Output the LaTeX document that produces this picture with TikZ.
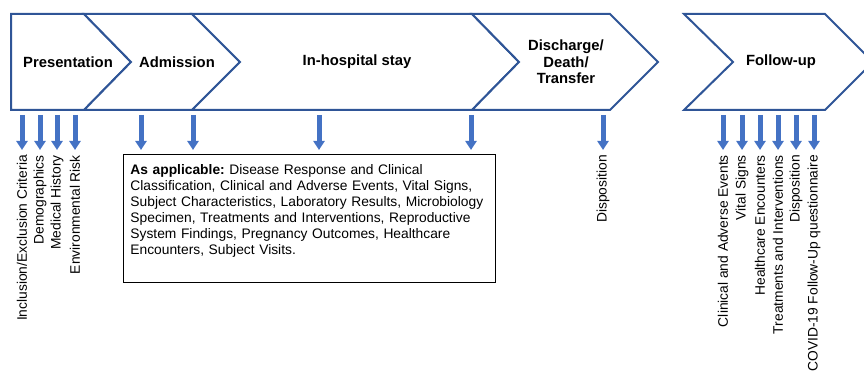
\documentclass[tikz,border=0pt]{standalone}
\usepackage{fontspec}
\setmainfont{Liberation Sans}
\usepackage{xcolor}
\usetikzlibrary{arrows.meta, positioning}

\definecolor{stageblue}{HTML}{2F5597}
\definecolor{arrowblue}{HTML}{4472C4}
\hyphenpenalty=10000
\frenchspacing

\begin{document}
\begin{tikzpicture}[x=1pt, y=-1pt,
    stage/.style={draw=stageblue, line width=2pt, fill=white, line join=miter},
    hdr/.style={font=\fontsize{14.8}{16.5}\selectfont\bfseries, align=center},
    lbl/.style={rotate=90, anchor=east, inner sep=1pt, font=\fontsize{13.8}{16}\selectfont},
    infobox/.style={draw, line width=0.9pt, text width=358pt, align=left, inner xsep=7pt, inner ysep=10pt,
        font=\fontsize{13.8}{16}\selectfont},
    arr/.style={-{Triangle[width=11pt, length=9pt]}, line width=5pt, draw=arrowblue},
]
\useasboundingbox (0,0) rectangle (864,371);

% stages
\draw[stage] (11,14) -- (84,14) -- (131,62) -- (84,110) -- (11,110) -- cycle;
\draw[stage] (84,14) -- (192,14) -- (240,62) -- (192,110) -- (84,110) -- (131,62) -- cycle;
\draw[stage] (192,14) -- (472,14) -- (519,62) -- (472,110) -- (192,110) -- (240,62) -- cycle;
\draw[stage] (472,14) -- (610,14) -- (658,62) -- (610,110) -- (472,110) -- (519,62) -- cycle;
\draw[stage] (684,14) -- (825,14) -- (873,62) -- (825,110) -- (684,110) -- (733,62) -- cycle;

\node[hdr] (pres) at (68, 62) {Presentation};
\node[hdr] (adm) at (177, 62) {Admission};
\node[hdr] (stay) at (357, 62) {In-hospital stay};
\node[hdr] (disch) at (566, 62) {Discharge/\\Death/\\Transfer};
\node[hdr] (follow) at (781, 62) {Follow-up};

% arrows below the stages
\foreach \x in {22, 40, 57, 75, 141, 193, 319, 471, 603, 723, 742, 760, 778, 796, 814}
    \draw[arr] (\x,115) -- (\x,150);

% data collected
\foreach \x/\txt [count=\i] in {22/{Inclusion/Exclusion Criteria}, 40/Demographics,
        57/Medical History, 75/Environmental Risk}
    \node[lbl] (presdata\i) at (\x,154) {\txt};

\node[infobox, anchor=north west] (applic) at (123,154)
    {\textbf{As applicable:} Disease Response and Clinical Classification, Clinical and Adverse Events,
    Vital Signs, Subject Characteristics, Laboratory Results, Microbiology Specimen, Treatments and
    Interventions, Reproductive System Findings, Pregnancy Outcomes, Healthcare Encounters, Subject
    Visits.\rule[-18pt]{0pt}{1pt}};

\node[lbl] (dispdata) at (603,154) {Disposition};

\foreach \x/\txt [count=\i] in {723/Clinical and Adverse Events, 742/Vital Signs,
        760/Healthcare Encounters, 778/Treatments and Interventions, 796/Disposition,
        814/COVID-19 Follow-Up questionnaire}
    \node[lbl] (followdata\i) at (\x,154) {\txt};

\end{tikzpicture}
\end{document}
